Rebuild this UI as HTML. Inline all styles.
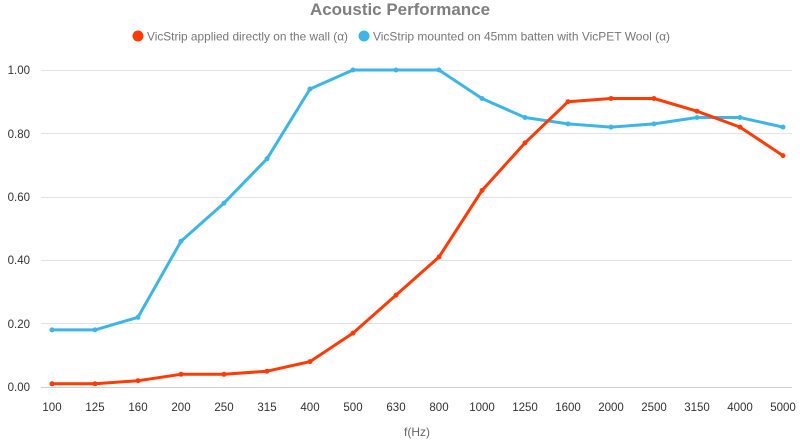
<!DOCTYPE html>
<html><head><meta charset="utf-8"><style>body{margin:0;background:#fff}svg{display:block}</style></head><body>
<svg width="800" height="444" xmlns="http://www.w3.org/2000/svg" font-family="Liberation Sans, sans-serif">
<text x="400" y="15" text-anchor="middle" font-size="17" font-weight="bold" fill="#7f7f7f" textLength="180" lengthAdjust="spacingAndGlyphs">Acoustic Performance</text>
<circle cx="138" cy="36" r="5.5" fill="#fc3b05"/>
<text x="147" y="40.5" font-size="12" fill="#777" textLength="201" lengthAdjust="spacingAndGlyphs">VicStrip applied directly on the wall (α)</text>
<circle cx="364" cy="36" r="5.5" fill="#3fb5e5"/>
<text x="373" y="40.5" font-size="12" fill="#777" textLength="297" lengthAdjust="spacingAndGlyphs">VicStrip mounted on 45mm batten with VicPET Wool (α)</text>
<g stroke="#e3e3e3" stroke-width="1">
<line x1="41" x2="792" y1="70.5" y2="70.5"/><line x1="41" x2="792" y1="133.5" y2="133.5"/><line x1="41" x2="792" y1="197.5" y2="197.5"/><line x1="41" x2="792" y1="260.5" y2="260.5"/><line x1="41" x2="792" y1="323.5" y2="323.5"/>
</g>
<line x1="41" x2="792" y1="387.5" y2="387.5" stroke="#cfcfcf"/>
<g font-size="11.5" fill="#333" text-anchor="end">
<text x="30" y="74">1.00</text><text x="30" y="138">0.80</text><text x="30" y="201">0.60</text><text x="30" y="264">0.40</text><text x="30" y="328">0.20</text><text x="30" y="391">0.00</text>
</g>
<g font-size="11.5" fill="#333" text-anchor="middle">
<text x="52" y="411">100</text><text x="95" y="411">125</text><text x="138" y="411">160</text><text x="181" y="411">200</text><text x="224" y="411">250</text><text x="267" y="411">315</text><text x="310" y="411">400</text><text x="353" y="411">500</text><text x="396" y="411">630</text><text x="439" y="411">800</text><text x="482" y="411">1000</text><text x="525" y="411">1250</text><text x="568" y="411">1600</text><text x="611" y="411">2000</text><text x="654" y="411">2500</text><text x="697" y="411">3150</text><text x="740" y="411">4000</text><text x="783" y="411">5000</text>
</g>
<text x="417" y="436" font-size="12" fill="#666" text-anchor="middle">f(Hz)</text>
<polyline fill="none" stroke="#3fb5e5" stroke-width="3" stroke-linejoin="round" points="52,329.9 95,329.9 138,317.3 181,241.2 224,203.1 267,158.8 310,89 353,70 396,70 439,70 482,98.5 525,117.5 568,123.9 611,127.1 654,123.9 697,117.5 740,117.5 783,127.1"/>
<g fill="#3fb5e5">
<circle cx="52" cy="329.9" r="2.5"/><circle cx="95" cy="329.9" r="2.5"/><circle cx="138" cy="317.3" r="2.5"/><circle cx="181" cy="241.2" r="2.5"/><circle cx="224" cy="203.1" r="2.5"/><circle cx="267" cy="158.8" r="2.5"/><circle cx="310" cy="89" r="2.5"/><circle cx="353" cy="70" r="2.5"/><circle cx="396" cy="70" r="2.5"/><circle cx="439" cy="70" r="2.5"/><circle cx="482" cy="98.5" r="2.5"/><circle cx="525" cy="117.5" r="2.5"/><circle cx="568" cy="123.9" r="2.5"/><circle cx="611" cy="127.1" r="2.5"/><circle cx="654" cy="123.9" r="2.5"/><circle cx="697" cy="117.5" r="2.5"/><circle cx="740" cy="117.5" r="2.5"/><circle cx="783" cy="127.1" r="2.5"/>
</g>
<polyline fill="none" stroke="#fc3b05" stroke-width="3" stroke-linejoin="round" points="52,383.8 95,383.8 138,380.7 181,374.3 224,374.3 267,371.2 310,361.6 353,333.1 396,295.1 439,257 482,190.5 525,142.9 568,101.7 611,98.5 654,98.5 697,111.2 740,127.1 783,155.6"/>
<g fill="#fc3b05">
<circle cx="52" cy="383.8" r="2.5"/><circle cx="95" cy="383.8" r="2.5"/><circle cx="138" cy="380.7" r="2.5"/><circle cx="181" cy="374.3" r="2.5"/><circle cx="224" cy="374.3" r="2.5"/><circle cx="267" cy="371.2" r="2.5"/><circle cx="310" cy="361.6" r="2.5"/><circle cx="353" cy="333.1" r="2.5"/><circle cx="396" cy="295.1" r="2.5"/><circle cx="439" cy="257" r="2.5"/><circle cx="482" cy="190.5" r="2.5"/><circle cx="525" cy="142.9" r="2.5"/><circle cx="568" cy="101.7" r="2.5"/><circle cx="611" cy="98.5" r="2.5"/><circle cx="654" cy="98.5" r="2.5"/><circle cx="697" cy="111.2" r="2.5"/><circle cx="740" cy="127.1" r="2.5"/><circle cx="783" cy="155.6" r="2.5"/>
</g>
</svg>
</body></html>
